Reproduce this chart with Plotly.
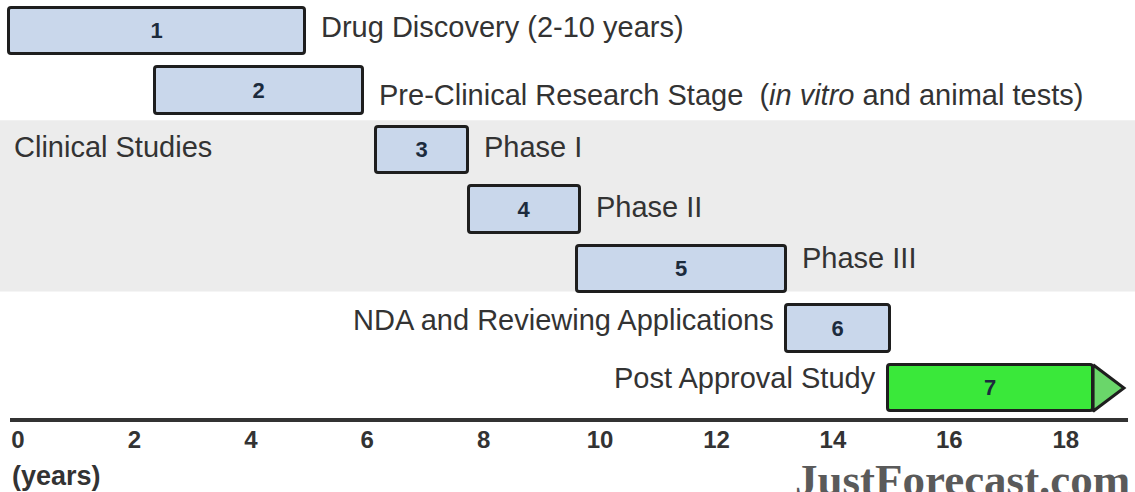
import plotly.graph_objects as go

# ---- data (years) ----
phase_ids = ["1", "2", "3", "4", "5", "6", "7"]
rows = [1, 2, 3, 4, 5, 6, 7]
starts = [-0.15, 2.35, 6.15, 7.75, 9.6, 13.2, 14.95]
ends = [4.93, 5.93, 7.73, 9.66, 13.19, 14.98, 18.47]
arrow_tip = 19.0
stage_labels = [
    "Drug Discovery (2-10 years)",
    "Pre-Clinical Research Stage  (<i>in vitro</i> and animal tests)",
    "Phase I",
    "Phase II",
    "Phase III",
    "NDA and Reviewing Applications",
    "Post Approval Study",
]
label_side = ["right", "right", "right", "right", "right", "left", "left"]
label_yshift = [4, -4, 3, 2, 11, 8, 10]
clinical_rows = [3, 5]
tick_years = [0, 2, 4, 6, 8, 10, 12, 14, 16, 18]
axis_span = [-0.137, 19.07]

FONT = "Liberation Sans, Arial, sans-serif"
TXT = "#333333"
BLUE = "#c9d7eb"
GREEN = "#3ae83a"
EDGE = "#1e1e1e"

durations = [e - s for s, e in zip(starts, ends)]
colors = [BLUE] * 6 + [GREEN]

fig = go.Figure()

fig.add_trace(go.Bar(
    y=rows, x=durations, base=starts, orientation="h", width=0.78,
    marker=dict(color=colors, line=dict(color=EDGE, width=3), cornerradius=3),
    text=phase_ids, textposition="inside", insidetextanchor="middle",
    textfont=dict(family=FONT, size=22, color="#1c2b3d", weight="bold"),
    hoverinfo="skip", showlegend=False,
))

# arrow head on the last bar
r7 = rows[-1]
fig.add_trace(go.Scatter(
    x=[ends[-1], arrow_tip, ends[-1], ends[-1]],
    y=[r7 - 0.39, r7, r7 + 0.39, r7 - 0.39],
    mode="lines", fill="toself", fillcolor="#6ad66a",
    line=dict(color=EDGE, width=3), hoverinfo="skip", showlegend=False,
))

# gray band for clinical studies
fig.add_shape(type="rect", xref="paper", x0=0, x1=1, yref="y",
              y0=clinical_rows[0] - 0.5, y1=clinical_rows[1] + 0.38,
              fillcolor="#ececec", line_width=0, layer="below")

# time axis line
fig.add_shape(type="line", xref="x", x0=axis_span[0], x1=axis_span[1],
              yref="paper", y0=0, y1=0, line=dict(color="#333333", width=4))

LABEL_SIZE = 29
ann = []
for i, lab in enumerate(stage_labels):
    if label_side[i] == "right":
        ann.append(dict(x=ends[i], y=rows[i], xref="x", yref="y", text=lab,
                        xanchor="left", xshift=14, yshift=label_yshift[i],
                        showarrow=False, font=dict(family=FONT, size=LABEL_SIZE, color=TXT)))
    else:
        ann.append(dict(x=starts[i], y=rows[i], xref="x", yref="y", text=lab,
                        xanchor="right", xshift=-10, yshift=label_yshift[i],
                        showarrow=False, font=dict(family=FONT, size=LABEL_SIZE, color=TXT)))
ann.append(dict(x=axis_span[0], y=clinical_rows[0], xref="x", yref="y",
                text="Clinical Studies", xanchor="left", xshift=2, yshift=3,
                showarrow=False, font=dict(family=FONT, size=LABEL_SIZE, color=TXT)))
ann.append(dict(x=axis_span[0], y=0, xref="x", yref="paper", text="(years)",
                xanchor="left", yanchor="middle", xshift=0, yshift=-56,
                showarrow=False, font=dict(family=FONT, size=27, color=TXT, weight="bold")))
ann.append(dict(x=1, y=0, xref="paper", yref="paper", text="JustForecast.com",
                xanchor="right", yanchor="top", xshift=-3, yshift=-33,
                showarrow=False, font=dict(family="Liberation Serif, Times New Roman, serif",
                                           size=45, color="#5a5a5a", weight="bold")))

fig.update_layout(
    width=1135, height=492,
    margin=dict(l=0, r=0, t=0, b=72),
    paper_bgcolor="white", plot_bgcolor="rgba(0,0,0,0)",
    annotations=ann,
    xaxis=dict(range=[-0.309, 19.19], showgrid=False, zeroline=False,
               showline=False, tickvals=tick_years, ticks="",
               tickfont=dict(family=FONT, size=24, color=TXT, weight="bold"),
               ticklabelstandoff=3),
    yaxis=dict(range=[7.538, 0.479], visible=False, showgrid=False),
    bargap=0,
)

fig.write_html("out.html", config={"displayModeBar": False},
               post_script="document.body.style.margin='0px';")
